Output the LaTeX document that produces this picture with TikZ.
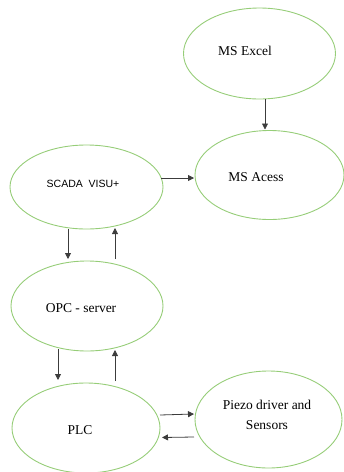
\documentclass[tikz,border=0pt]{standalone}
\usepackage{fontspec}
\setmainfont{Liberation Serif}
\setsansfont{Liberation Sans}
\usetikzlibrary{arrows.meta,shapes.geometric,calc}
\definecolor{elgreen}{RGB}{150,205,120}
\definecolor{argray}{RGB}{60,60,60}
\begin{document}
\begin{tikzpicture}[x=1pt,y=-1pt,
  oval/.style={draw=elgreen,line width=0.9pt,ellipse,inner sep=0pt,outer sep=0pt},
  conn/.style={draw=argray,line width=0.8pt,-{Triangle[length=6pt,width=6pt]}},
  lbl/.style={font=\fontsize{13.5}{16}\selectfont,align=center}]
\useasboundingbox (0,0) rectangle (344,472);
% ellipses
\node[oval,minimum width=152pt,minimum height=91pt] (excel) at (259.5,53.5) {};
\node[oval,minimum width=149pt,minimum height=89pt] (access) at (269.5,175) {};
\node[oval,minimum width=153pt,minimum height=84pt] (scada) at (86.5,187) {};
\node[oval,minimum width=152pt,minimum height=90pt] (opc) at (87,306) {};
\node[oval,minimum width=148pt,minimum height=90pt] (plc) at (86,428) {};
\node[oval,minimum width=147pt,minimum height=97pt] (piezo) at (268.5,419.5) {};
% labels
\node[lbl] (excelt) at (245,51) {MS Excel};
\node[lbl] (accesst) at (256,177) {MS Acess};
\node[font=\sffamily\fontsize{10.5}{12}\selectfont] (scadat) at (83,184) {SCADA\ \ VISU+};
\node[lbl] (opct) at (81,308) {OPC - server};
\node[lbl] (plct) at (80,430) {PLC};
\node[lbl,font=\fontsize{13.5}{20}\selectfont] (piezot) at (267,415) {Piezo driver and\\Sensors};
% connectors
\draw[conn] ($(excel.south)+(5.5,0)$) -- ($(access.north)+(-4.5,-1)$);
\draw[conn] ($(scada.east)+(-2,-9)$) -- ($(access.west)+(-1,3)$);
\draw[conn] ($(scada.south)+(-18.5,0)$) -- ($(opc.north)+(-19,-2)$);
\draw[conn] ($(opc.north)+(28,-2)$) -- ($(scada.south)+(28.5,-1)$);
\draw[conn] ($(opc.south)+(-29,-2)$) -- ($(plc.north)+(-28,-3)$);
\draw[conn] ($(plc.north)+(29,-2)$) -- ($(opc.south)+(28,-1)$);
\draw[conn] ($(plc.east)+(0,-13)$) -- ($(piezo.west)+(-1,-5.5)$);
\draw[conn] ($(piezo.west)+(-1,17.5)$) -- ($(plc.east)+(2,9.5)$);
\end{tikzpicture}
\end{document}
